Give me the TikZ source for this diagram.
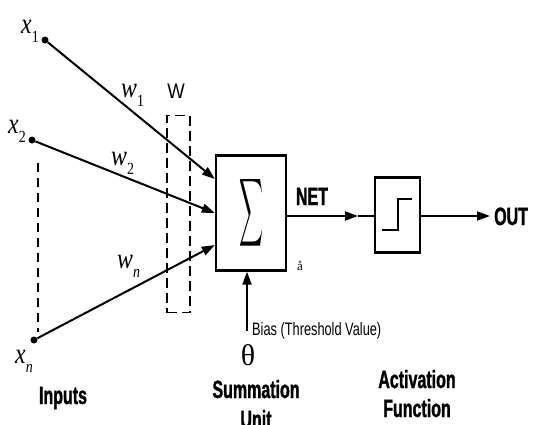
\documentclass[tikz,border=0pt]{standalone}
\usepackage{fontspec}
\setmainfont{Liberation Serif}
\setsansfont{Liberation Sans}
\newfontfamily\nsansb[FakeStretch=0.64,FakeBold=1.2]{Liberation Sans Bold}
\newfontfamily\tsans[FakeStretch=0.71]{Liberation Sans}
\newfontfamily\wsans[FakeStretch=0.88]{Liberation Sans}
\newfontfamily\vserif[FakeStretch=0.82]{Liberation Serif}
\newcommand{\lowsub}[1]{\raisebox{-9pt}{\fontsize{17}{17}\selectfont #1}}
\usetikzlibrary{arrows.meta}
\tikzset{
  dotnode/.style={circle, fill=black, inner sep=0pt, minimum size=7pt},
  conn/.style={line width=2pt, -{Triangle[length=13pt,width=9pt]}},
  plainline/.style={line width=2pt},
  blockbox/.style={draw, line width=2.3pt, inner sep=0pt},
  wbox/.style={draw, line width=1.5pt, dash pattern=on 10pt off 5pt, inner sep=0pt},
  vdash/.style={line width=1.3pt, dash pattern=on 9pt off 6pt},
  varlab/.style={font=\vserif\fontsize{29}{29}\selectfont\itshape, inner sep=0pt, anchor=base west},
  boldlab/.style={font=\nsansb\fontsize{25}{29}\selectfont, inner sep=0pt, anchor=base},
  thinlab/.style={font=\tsans\fontsize{18}{20}\selectfont, inner sep=0pt, anchor=base west},
}
\begin{document}
\begin{tikzpicture}[x=1pt,y=-1pt]
\useasboundingbox (0,0) rectangle (534,424);
\clip (0,0) rectangle (534,424);

% input dots
\node[dotnode] (x1) at (45,40) {};
\node[dotnode] (x2) at (32,140) {};
\node[dotnode] (xn) at (34,340) {};

% input labels
\node[varlab] (lx1) at (21,33) {x\lowsub{\upshape 1}};
\node[varlab] (lx2) at (8,133) {x\lowsub{\upshape 2}};
\node[varlab] (lxn) at (15,363) {x\lowsub{n}};

% dashed line between inputs
\coordinate (dtop) at (38,163);
\coordinate (dbot) at (38,332);
\draw[vdash] (dtop) -- (dbot);

% W dashed box
\node[wbox, minimum width=23pt, minimum height=197pt] (W) at (178.5,214) {};
\node[font=\wsans\fontsize{21}{21}\selectfont, inner sep=0pt, anchor=base] (Wlab) at (176,98) {W};

% summation box
\node[blockbox, minimum width=70pt, minimum height=115pt] (sum) at (251,213)
  {\resizebox{24pt}{50pt}{$\displaystyle\sum$}};

\coordinate (in1) at ([yshift=34pt]sum.west);
\coordinate (in2) at ([yshift=0pt]sum.west);
\coordinate (in3) at ([yshift=-32pt]sum.west);
\draw[conn] (x1) -- (in1);
\draw[conn] (x2) -- (in2);
\draw[conn] (xn) -- (in3);

% weight labels
\node[varlab] (w1) at (121,97) {w\lowsub{\upshape 1}};
\node[varlab] (w2) at (111,165) {w\lowsub{\upshape 2}};
\node[varlab] (wn) at (117,268) {w\lowsub{n}};

% activation box
\node[blockbox, minimum width=45pt, minimum height=75pt] (act) at (397.5,215) {};
\draw[line width=2pt] (382,230) -- (398,230) -- (398,199) -- (412,199);

% NET connection
\coordinate (netmid) at (358,216);
\draw[conn] (sum.east |- netmid) -- (netmid);
\draw[plainline] (netmid) -- (act.west |- netmid);
\node[boldlab] (net) at (312,205) {NET};

% output
\coordinate (outtip) at (490,216);
\draw[conn] (act.east |- outtip) -- (outtip);
\node[boldlab, anchor=base west] (out) at (494,225) {OUT};

% small label
\node[font=\fontsize{13}{13}\selectfont, inner sep=0pt] (aring) at (300,266) {å};

% bias
\coordinate (biasbot) at (247,331);
\draw[conn] (biasbot) -- (sum.south -| biasbot);
\node[thinlab] (bias) at (252,335) {Bias (Threshold Value)};
\node[font=\fontsize{30}{30}\selectfont, inner sep=0pt] (theta) at (248,355) {θ};

% captions
\node[boldlab] (inputs) at (63,404) {Inputs};
\node[boldlab] (summ) at (256,398) {Summation};
\node[boldlab] (unit) at (256,428) {Unit};
\node[boldlab] (actlab) at (417,388) {Activation};
\node[boldlab] (funclab) at (417,417) {Function};
\end{tikzpicture}
\end{document}
